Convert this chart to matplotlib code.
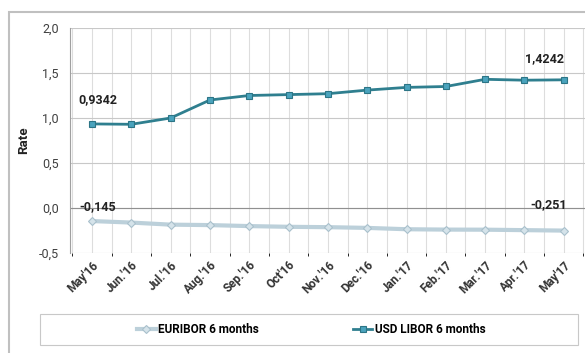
import matplotlib.pyplot as plt
from matplotlib.patches import Rectangle
from matplotlib.ticker import FuncFormatter, MultipleLocator

plt.rcParams['font.family'] = ['Roboto', 'DejaVu Sans']

months = ["May'16", "Jun.'16", "Jul.'16", "Aug.'16", "Sep.'16", "Oct'16", "Nov.'16",
          "Dec.'16", "Jan.'17", "Feb.'17", "Mar.'17", "Apr.'17", "May'17"]
euribor = [-0.145, -0.162, -0.185, -0.19, -0.201, -0.209, -0.213, -0.221,
           -0.236, -0.24, -0.241, -0.246, -0.251]
libor = [0.9342, 0.93, 1.00, 1.20, 1.25, 1.26, 1.27, 1.31, 1.34, 1.35, 1.43, 1.42, 1.4242]

W, H = 585, 353
fig = plt.figure(figsize=(W / 100, H / 100), dpi=100)
fig.patch.set_facecolor('white')

# plot area in pixel coords
ax = fig.add_axes([70 / W, 1 - 253 / H, (585 - 70) / W, (253 - 28) / H])
x = list(range(len(months)))

ax.plot(x, euribor, color='#bcd0da', lw=3, marker='D', ms=4,
        mfc='#d5e3ea', mec='#a9c0cc', mew=0.8, label='EURIBOR 6 months', zorder=3)
ax.plot(x, libor, color='#2f7f8f', lw=2, marker='s', ms=4.5,
        mfc='#4aa3bd', mec='#2c7586', mew=0.8, label='USD LIBOR 6 months', zorder=3)

ax.set_xlim(-0.56, 12.54)
ax.set_ylim(-0.5, 2.0)
ax.yaxis.set_major_locator(MultipleLocator(0.5))
ax.yaxis.set_major_formatter(FuncFormatter(lambda v, p: f'{v:.1f}'.replace('.', ',')))
ax.xaxis.set_minor_locator(MultipleLocator(0.5))
ax.set_xticks(x)
ax.set_xticklabels(months, rotation=45, ha='right', rotation_mode='anchor',
                   fontsize=8.5, fontweight='bold', color='#333333')
ax.tick_params(axis='x', length=0, pad=4)
ax.tick_params(axis='y', length=0, labelsize=9, colors='#404040', pad=8)

ax.grid(which='both', axis='x', color='#dddddd', lw=0.8)
ax.grid(which='major', axis='y', color='#c8c8c8', lw=0.8)
ax.set_axisbelow(True)
for s in ['top', 'right', 'bottom']:
    ax.spines[s].set_visible(False)
ax.spines['left'].set_color('#a0a0a0')
ax.axhline(0, color='#909090', lw=0.8, zorder=1)

ax.set_ylabel('Rate', fontsize=9.5, fontweight='bold', color='#222222', labelpad=6)

lbl = dict(fontsize=9, fontweight='bold', color='#222222', textcoords='offset points')
ax.annotate('0,9342', (0, libor[0]), xytext=(-10, 15), **lbl)
ax.annotate('1,4242', (12, libor[-1]), xytext=(-28, 13), **lbl)
ax.annotate('-0,145', (0, euribor[0]), xytext=(-9, 8), **lbl)
ax.annotate('-0,251', (12, euribor[-1]), xytext=(-24, 16), **lbl)

# outer chart frame and legend box
fig.patches.append(Rectangle((9 / W, -0.05), 1.1, 1 - 12 / H + 0.05, transform=fig.transFigure,
                             fill=False, edgecolor='#c0c0c0', lw=1.5))
fig.patches.append(Rectangle((40 / W, 1 - 345 / H), (578 - 40) / W, (345 - 314) / H,
                             transform=fig.transFigure, fill=False, edgecolor='#c8c8c8', lw=0.8))

fig.legend(loc='center', bbox_to_anchor=(311 / W, 1 - 329.5 / H), ncol=2, frameon=False,
           prop={'size': 8.5, 'weight': 'bold'}, columnspacing=8,
           handlelength=1.6, handletextpad=0.2)

fig.savefig('out.png', dpi=100)
